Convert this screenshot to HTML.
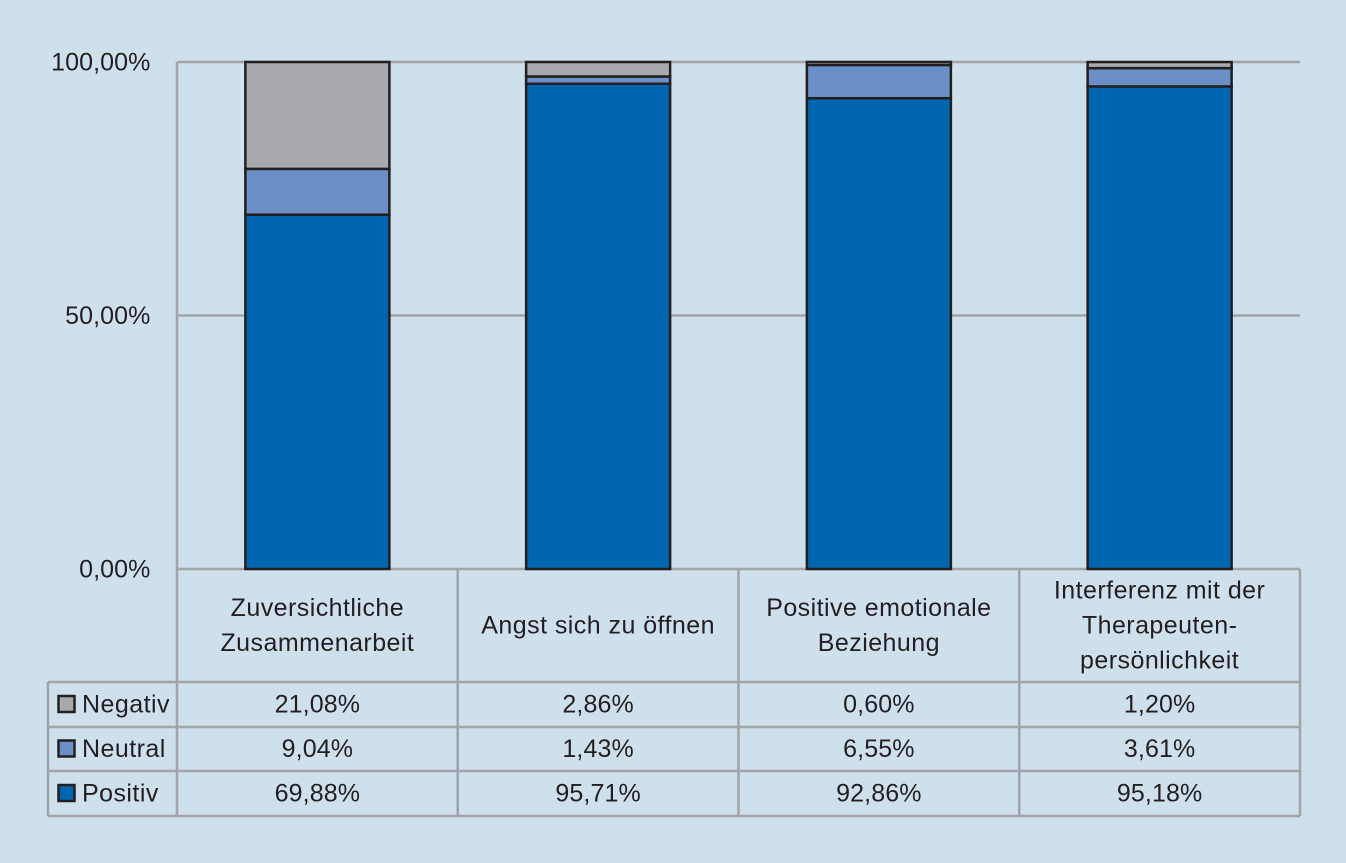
<!DOCTYPE html>
<html lang="de">
<head>
<meta charset="utf-8">
<title>Gestapeltes Balkendiagramm</title>
<style>
html,body{margin:0;padding:0;background:#cfe0ed;}
svg{display:block;}
text{font-family:"Liberation Sans",sans-serif;font-size:25px;fill:#231f20;letter-spacing:0.45px;}
text.num{letter-spacing:0.1px;}
</style>
</head>
<body>
<svg id="chart" width="1346" height="863" viewBox="0 0 1346 863" xmlns="http://www.w3.org/2000/svg"></svg>
<script>
const categories = [
  ["Zuversichtliche", "Zusammenarbeit"],
  ["Angst sich zu öffnen"],
  ["Positive emotionale", "Beziehung"],
  ["Interferenz mit der", "Therapeuten-", "persönlichkeit"]
];
const seriesNames = ["Positiv", "Neutral", "Negativ"];
const positiv = [69.88, 95.71, 92.86, 95.18];
const neutral = [9.04, 1.43, 6.55, 3.61];
const negativ = [21.08, 2.86, 0.60, 1.20];
const yTicks = [0, 50, 100];

const seriesValues = [positiv, neutral, negativ];
const seriesColors = ["#0066b0", "#6b8fc6", "#a7a9ac"];

const NS = "http://www.w3.org/2000/svg";
const svg = document.getElementById("chart");
const plotLeft = 177, plotRight = 1300, plotTop = 62, plotBottom = 569;
const tableLeft = 48;
const rowEdges = [682, 727, 771, 816];
const gridColor = "#a2a4a7", barStroke = "#231f20";
const catWidth = (plotRight - plotLeft) / categories.length;
const barWidth = 144;

const yScale = v => plotBottom - (v / 100) * (plotBottom - plotTop);
const xCenter = i => plotLeft + catWidth * (i + 0.5);
const pct = v => v.toFixed(2).replace(".", ",") + "%";

function make(tag, attrs, text) {
  const el = document.createElementNS(NS, tag);
  for (const k in attrs) el.setAttribute(k, attrs[k]);
  if (text !== undefined) el.textContent = text;
  svg.appendChild(el);
  return el;
}
function line(x1, y1, x2, y2) {
  return make("line", { x1, y1, x2, y2, stroke: gridColor, "stroke-width": 2.6 });
}

// gridlines and y tick labels
yTicks.forEach(t => {
  const y = yScale(t);
  const g = line(plotLeft, y, plotRight, y);
  
  
  const lab = make("text", { x: 150.5, y: y + 8.5, "text-anchor": "end", "class": "num" }, pct(t));
  
  
});

// table vertical lines
for (let i = 0; i <= categories.length; i++) {
  const x = plotLeft + catWidth * i;
  const v = line(x, i === 0 ? plotTop : plotBottom, x, rowEdges[rowEdges.length - 1]);
  
  
}
// table horizontal lines
rowEdges.forEach(y => {
  const h = line(tableLeft, y, plotRight, y);
  
  
});
const leftEdge = line(tableLeft, rowEdges[0], tableLeft, rowEdges[3]);



// stacked bars
categories.forEach((c, i) => {
  let cum = 0;
  seriesValues.forEach((vals, s) => {
    const y0 = yScale(cum);
    const y1 = yScale(cum + vals[i]);
    const r = make("rect", {
      x: xCenter(i) - barWidth / 2, y: y1, width: barWidth, height: y0 - y1,
      fill: seriesColors[s], stroke: barStroke, "stroke-width": 2.5
    });
    
    
    cum += vals[i];
  });
});

// category labels
categories.forEach((lines, i) => {
  const lh = 35;
  const first = 633.5 - (lines.length - 1) * lh / 2;
  lines.forEach((t, n) => {
    const el = make("text", { x: xCenter(i), y: first + n * lh, "text-anchor": "middle" }, t);
    
    
  });
});

// table rows: top row is the last series
seriesNames.slice().reverse().forEach((name, r) => {
  const s = seriesNames.length - 1 - r;
  const top = rowEdges[r], bottom = rowEdges[r + 1];
  const mid = (top + bottom) / 2;
  const sw = make("rect", {
    x: 58.5, y: mid - 8.5, width: 16, height: 16,
    fill: seriesColors[s], stroke: barStroke, "stroke-width": 2.5
  });
  
  
  const lab = make("text", { x: 82, y: mid + 8 }, name);
  
  
  seriesValues[s].forEach((v, i) => {
    const cell = make("text", { x: xCenter(i), y: mid + 8, "text-anchor": "middle", "class": "num" }, pct(v));
    
    
  });
});
</script>
</body>
</html>
